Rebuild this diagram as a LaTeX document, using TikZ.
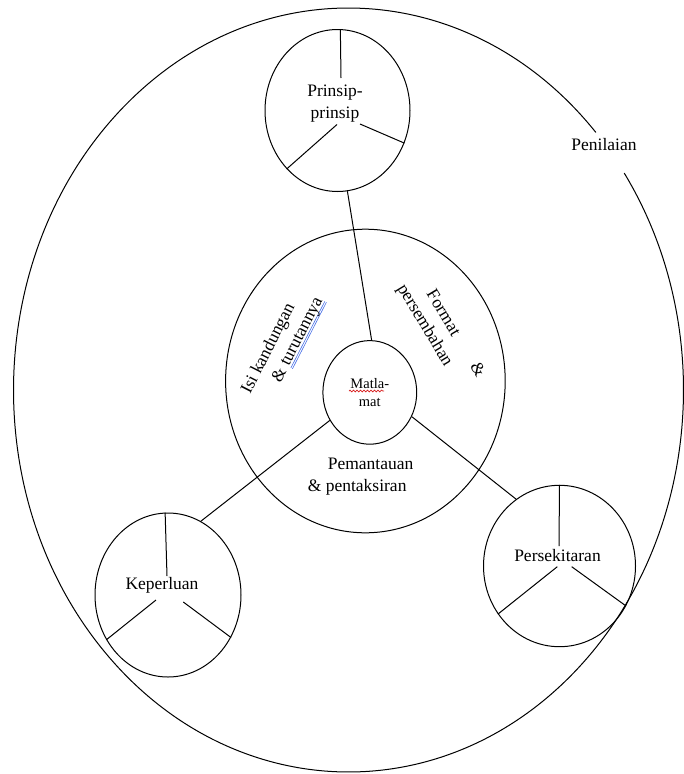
\documentclass[tikz,border=0pt]{standalone}
\usepackage{fontspec}
\setmainfont{Liberation Serif}
\usetikzlibrary{shapes.geometric,decorations.pathmorphing}
\definecolor{ulblue}{RGB}{70,110,230}
\definecolor{sqred}{RGB}{215,30,30}
\newcommand\blueul[1]{\setbox0\hbox{#1}\rlap{\color{ulblue}\rule[-2.6pt]{\wd0}{0.6pt}}\rlap{\color{ulblue}\rule[-4.4pt]{\wd0}{0.6pt}}\box0}
\begin{document}
\begin{tikzpicture}[x=1pt,y=1pt,
  ring/.style={draw, ellipse, inner sep=0pt, line width=1pt},
  lab/.style={font=\fontsize{17.5}{22}\selectfont, inner sep=0pt, align=center},
  spoke/.style={line width=1pt},
  link/.style={line width=1pt}]
\useasboundingbox (0,0) rectangle (684,-774);
% outer ellipse with a gap for the label
\draw[link] ([shift={(42.4:335pt and 382pt)}]348.5,-390) arc[start angle=42.4, end angle=394.6, x radius=335pt, y radius=382pt];
\node[lab] (pen) at (604,-145) {Penilaian};
% circles
\node[ring, minimum width=145pt, minimum height=162pt] (pr) at (337.5,-110.5) {};
\node[ring, minimum width=279.6pt, minimum height=303.6pt] (mid) at (365.4,-381) {};
\node[ring, minimum width=93.8pt, minimum height=103.6pt, font=\fontsize{14.5}{18}\selectfont, align=center] (mat) at (369.8,-392.4) {Matla-\\mat};
\node[ring, minimum width=146pt, minimum height=164pt] (kep) at (168,-595) {};
\node[ring, minimum width=152pt, minimum height=161.4pt] (pers) at (559.5,-566) {};
% labels
\node[lab] (prt) at (335,-103.5) {Prinsip-\\prinsip};
\node[lab] (kept) at (162,-585) {Keperluan};
\node[lab] (perst) at (557.5,-556) {Persekitaran};
\node[lab, align=left] (pem) at (360.6,-476.4) {\hspace*{20pt}Pemantauan\\\& pentaksiran};
\node[lab, align=left, rotate=63] (isi) at (283,-345.6) {Isi kandungan\\\hspace*{24pt}\& \blueul{turutannya}};
\node[lab, align=left, rotate=-59] (fmt) at (440.3,-331) {\hspace*{20pt}Format\hspace{34pt}\&\\persembahan};
% connectors
\draw[link] (pr.-83.3) -- (mat.88.7);
\draw[link] (mat.215.3) -- (kep.66.1);
\draw[link] (mat.-30) -- (pers.123.8);
% spokes
\coordinate (pr1) at (341,-78);
\coordinate (pr2) at (337,-124.5);
\coordinate (pr3) at (360,-124);
\draw[spoke] (pr.88) -- (pr1);
\draw[spoke] (pr2) -- (pr.229.4);
\draw[spoke] (pr3) -- (pr.-26.4);
\coordinate (kp1) at (167,-576);
\coordinate (kp2) at (156,-600);
\coordinate (kp3) at (183.3,-602);
\draw[spoke] (kep.92) -- (kp1);
\draw[spoke] (kp2) -- (kep.216.1);
\draw[spoke] (kp3) -- (kep.-34.2);
\coordinate (ps1) at (559,-546);
\coordinate (ps2) at (557.3,-566.7);
\coordinate (ps3) at (571.7,-566.7);
\draw[spoke] (pers.90) -- (ps1);
\draw[spoke] (ps2) -- (pers.218.2);
\draw[spoke] (ps3) -- (pers.-31.6);
% spell-check squiggle
\coordinate (sqa) at (349,-391);
\coordinate (sqb) at (384,-391);
\draw[sqred, line width=0.7pt, decorate, decoration={snake, amplitude=0.9pt, segment length=3.5pt}] (sqa) -- (sqb);
\end{tikzpicture}
\end{document}
